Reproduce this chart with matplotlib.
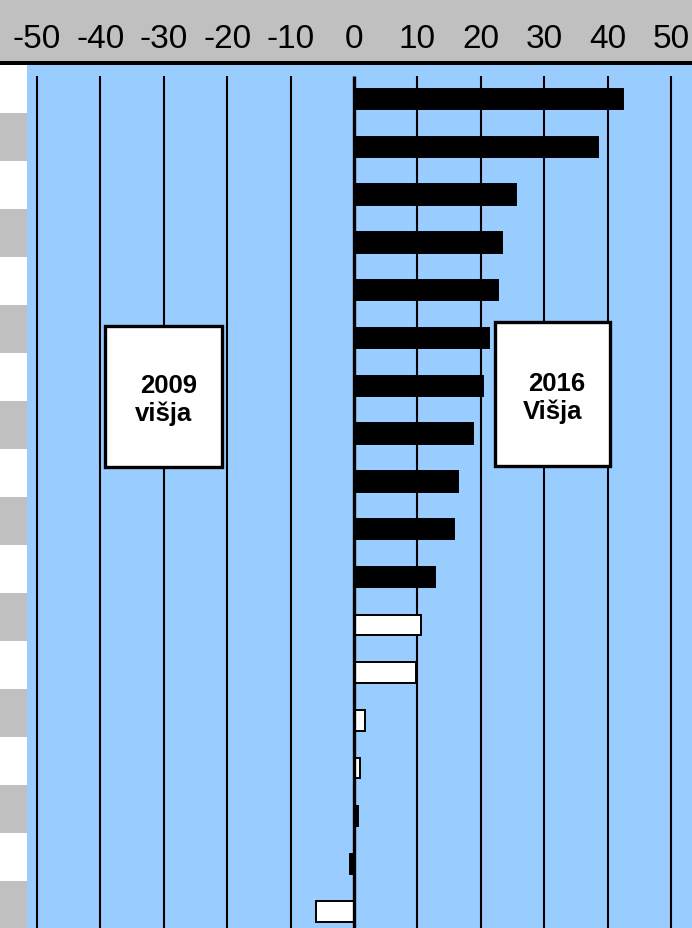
import matplotlib
matplotlib.use('Agg')
import matplotlib.pyplot as plt
from matplotlib.patches import Rectangle

plt.rcParams['font.family'] = ['Liberation Sans', 'DejaVu Sans']

# vrednosti (razlika v odstotnih točkah), od zgoraj navzdol
values = [42.4, 38.5, 25.6, 23.3, 22.7, 21.3, 20.3, 18.8, 16.4, 15.8, 12.8,
          10.6, 9.8, 1.7, 1.0, 0.6, -0.6, -6.0]
bar_colors = ['black'] * 11 + ['white'] * 4 + ['black'] * 2 + ['white']
ticks = [-50, -40, -30, -20, -10, 0, 10, 20, 30, 40, 50]
tick_labels = [str(t) for t in ticks]
box_labels = [('2009', 'višja'), ('2016', 'Višja')]

W, H = 692, 929
BLUE = '#99CCFF'
GREY = '#C0C0C0'


def px(x0, y0, x1, y1):
    # pixel box -> figure fraction
    return [x0 / W, 1 - y1 / H, (x1 - x0) / W, (y1 - y0) / H]


fig = plt.figure(figsize=(W / 100, H / 100), dpi=100)
fig.patch.set_facecolor('white')

# sivi pas zgoraj in crna crta (pod osmi, da se vidijo oznake)
fig.patches.append(Rectangle((0, 1 - 62 / H), 1, 62 / H, transform=fig.transFigure,
                             facecolor=GREY, edgecolor='none', zorder=-2))
fig.patches.append(Rectangle((0, 1 - 66 / H), 1, 4 / H, transform=fig.transFigure,
                             facecolor='black', edgecolor='none', zorder=-2))

# levi trak z izmenicnimi celicami
strip = fig.add_axes(px(0, 66, 27, 929))
strip.set_xlim(0, 1)
strip.set_ylim(863 / 48, 0)
for k in range(len(values)):
    strip.axhspan(k, k + 1, color='white' if k % 2 == 0 else GREY, lw=0)
strip.axis('off')

# glavni graf
ax = fig.add_axes(px(27, 66, 692, 929))
ax.set_facecolor(BLUE)
scale = 6.34
ax.set_xlim(-327 / scale, (692 - 354) / scale)
pitch = 47.8
ax.set_ylim((929 - 100) / pitch, (66 - 100) / pitch)
grid_top = (77 - 100) / pitch

for t in ticks:
    ax.vlines(t, grid_top, (929 - 100) / pitch, color='black',
              lw=2.4 if t == 0 else 1.5, zorder=1 if t != 0 else 4)

y = list(range(len(values)))
ax.barh(y, values, height=0.43, color=bar_colors, edgecolor='black', linewidth=1.4, zorder=3)

ax.xaxis.tick_top()
ax.set_xticks(ticks)
ax.set_xticklabels(tick_labels, fontsize=24)
ax.tick_params(axis='x', length=0, pad=8)
ax.set_yticks([])
for s in ax.spines.values():
    s.set_visible(False)

# okvirja z napisi
boxes = [(-39.2, 4.75, 18.4, 2.95), (22.2, 4.67, 18.1, 3.01)]
text_pos = [((-29.2, 5.98), (-30.0, 6.56)), ((32.0, 5.95), (31.4, 6.52))]
for (bx, by, bw, bh), (l1, l2), (p1, p2) in zip(boxes, box_labels, text_pos):
    ax.add_patch(Rectangle((bx, by), bw, bh, facecolor='white', edgecolor='black',
                           lw=2.4, zorder=5))
    ax.text(p1[0], p1[1], l1, ha='center', va='center', fontsize=18.5,
            fontweight='bold', zorder=6)
    ax.text(p2[0], p2[1], l2, ha='center', va='center', fontsize=18.5,
            fontweight='bold', zorder=6)

fig.savefig('out.png', dpi=100)
